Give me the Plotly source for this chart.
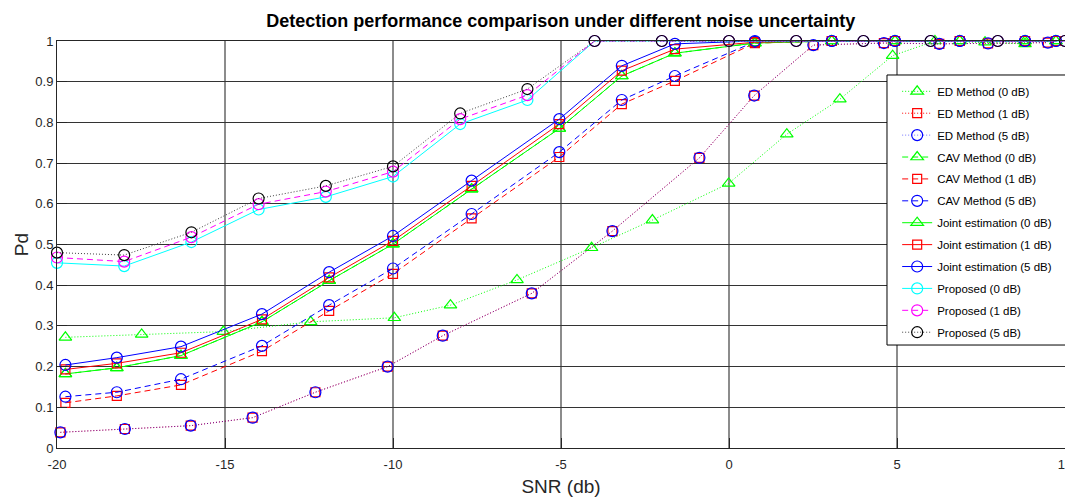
import plotly.graph_objects as go

# ---------------- data ----------------
snr_ed0 = [-19.75, -17.48, -15.05, -12.45, -9.96, -8.29, -6.31, -4.09, -2.28, -0.01, 1.72, 3.30, 4.87, 6.13, 7.62, 8.81]
pd_ed0 = [0.272, 0.279, 0.286, 0.310, 0.320, 0.351, 0.413, 0.492, 0.560, 0.650, 0.771, 0.857, 0.964, 1.0, 0.997, 0.993]

snr_ed = [-19.9, -17.98, -16.02, -14.18, -12.31, -10.16, -8.52, -5.87, -3.47, -0.88, 0.75, 2.51, 4.61, 6.26, 7.71, 9.49]
pd_ed1 = [0.0385, 0.0467, 0.0549, 0.0745, 0.137, 0.200, 0.276, 0.380, 0.533, 0.713, 0.866, 0.990, 0.995, 0.993, 0.994, 0.996]
pd_ed5 = [0.0385, 0.0467, 0.0549, 0.0745, 0.137, 0.200, 0.276, 0.380, 0.533, 0.713, 0.866, 0.990, 0.995, 0.993, 0.994, 0.996]

snr_joint = [-19.75, -18.22, -16.31, -13.9, -11.9, -10.0, -7.66, -5.05, -3.19, -1.61, 0.77, 3.06, 4.94, 6.87, 8.81, 9.73]
pd_cav0 = [0.182, 0.197, 0.227, 0.310, 0.411, 0.501, 0.636, 0.785, 0.914, 0.970, 0.995, 1, 1, 1, 1, 1]
pd_cav1 = [0.111, 0.128, 0.155, 0.238, 0.337, 0.428, 0.564, 0.715, 0.845, 0.902, 0.995, 1, 1, 1, 1, 1]
pd_cav5 = [0.126, 0.137, 0.169, 0.251, 0.351, 0.441, 0.575, 0.727, 0.855, 0.914, 0.998, 1, 1, 1, 1, 1]
pd_joint0 = [0.182, 0.197, 0.227, 0.310, 0.411, 0.501, 0.636, 0.785, 0.914, 0.970, 0.995, 1, 1, 1, 1, 1]
pd_joint1 = [0.193, 0.208, 0.234, 0.316, 0.419, 0.509, 0.644, 0.796, 0.927, 0.980, 0.997, 1, 1, 1, 1, 1]
pd_joint5 = [0.204, 0.222, 0.249, 0.329, 0.432, 0.521, 0.657, 0.808, 0.939, 0.993, 1, 1, 1, 1, 1, 1]

snr_prop = [-20, -18, -16, -14, -12, -10, -8, -6, -4, -2, 0, 2, 4, 6, 8, 10]
pd_prop0 = [0.455, 0.447, 0.506, 0.586, 0.617, 0.667, 0.796, 0.855, 1, 1, 1, 1, 1, 1, 1, 1]
pd_prop1 = [0.468, 0.458, 0.518, 0.599, 0.630, 0.679, 0.808, 0.867, 1, 1, 1, 1, 1, 1, 1, 1]
pd_prop5 = [0.480, 0.474, 0.530, 0.613, 0.644, 0.692, 0.822, 0.882, 1, 1, 1, 1, 1, 1, 1, 1]

x_ticks = [-20, -15, -10, -5, 0, 5, 10]
y_ticks = [0, 0.1, 0.2, 0.3, 0.4, 0.5, 0.6, 0.7, 0.8, 0.9, 1]

# ---------------- figure ----------------
DOT = "1px,2px"
DASH = "6px,4px"
FONT = "Liberation Sans, Arial, sans-serif"

series = [
    ("ED Method (0 dB)", snr_ed0, pd_ed0, "#00ff00", "#00ff00", DOT, "triangle-up-open", 11),
    ("ED Method (1 dB)", snr_ed, pd_ed1, "#ff0000", "#ff0000", DOT, "square-open", 9),
    ("ED Method (5 dB)", snr_ed, pd_ed5, "rgba(0,0,255,0.55)", "#0000ff", DOT, "circle-open", 11),
    ("CAV Method (0 dB)", snr_joint, pd_cav0, "#00ff00", "#00ff00", DASH, "triangle-up-open", 11),
    ("CAV Method (1 dB)", snr_joint, pd_cav1, "#ff0000", "#ff0000", DASH, "square-open", 9),
    ("CAV Method (5 dB)", snr_joint, pd_cav5, "#0000ff", "#0000ff", DASH, "circle-open", 11),
    ("Joint estimation (0 dB)", snr_joint, pd_joint0, "#00ff00", "#00ff00", "solid", "triangle-up-open", 11),
    ("Joint estimation (1 dB)", snr_joint, pd_joint1, "#ff0000", "#ff0000", "solid", "square-open", 9),
    ("Joint estimation (5 dB)", snr_joint, pd_joint5, "#0000ff", "#0000ff", "solid", "circle-open", 11),
    ("Proposed (0 dB)", snr_prop, pd_prop0, "#00ffff", "#00ffff", "solid", "circle-open", 11),
    ("Proposed (1 dB)", snr_prop, pd_prop1, "#ff00ff", "#ff00ff", DASH, "circle-open", 11),
    ("Proposed (5 dB)", snr_prop, pd_prop5, "#404040", "#000000", DOT, "circle-open", 11),
]

fig = go.Figure()
for i, (name, xs, ys, lc, mc, dash, sym, sz) in enumerate(series):
    fig.add_trace(go.Scatter(
        x=xs, y=ys, name=name, mode="lines+markers",
        line=dict(color=lc, width=1, dash=dash),
        marker=dict(symbol=sym, size=sz, color=mc, line=dict(color=mc, width=1.2)),
        legendgroup="g%d" % i,
        cliponaxis=False,
    ))

axis_font = dict(family=FONT, size=13, color="#262626")

# legend frame (extends past the right edge like the reference)
fig.add_shape(
    type="rect", xref="paper", yref="paper",
    x0=0.8234, x1=1.03, y0=0.253, y1=0.9165,
    line=dict(color="#000000", width=1), fillcolor="white", layer="above",
)

fig.update_layout(
    width=1065, height=497,
    margin=dict(l=57, r=0, t=41, b=49, autoexpand=False),
    paper_bgcolor="white", plot_bgcolor="white",
    title=dict(
        text="<b>Detection performance comparison under different noise uncertainty</b>",
        x=0.5266, xanchor="center", y=0.958, yanchor="middle",
        font=dict(family=FONT, size=18, color="#000000"),
    ),
    showlegend=True,
    legend=dict(
        x=0.8335, y=0.912, xanchor="left", yanchor="top",
        bgcolor="rgba(0,0,0,0)", borderwidth=0,
        font=dict(family=FONT, size=11.5, color="#000000"),
        tracegroupgap=2.9,
        itemwidth=30,
    ),
    xaxis=dict(
        range=[-20, 10], tickvals=x_ticks, ticktext=[str(v) for v in x_ticks],
        showgrid=True, gridcolor="#8c8c8c", gridwidth=1.5,
        zeroline=False, showline=True, linecolor="#262626", linewidth=1, mirror=True,
        ticks="inside", ticklen=10, tickcolor="#262626",
        tickfont=axis_font, ticklabeloverflow="allow", ticklabelstandoff=4,
        automargin=False,
        title=dict(text="SNR (db)", font=dict(family=FONT, size=19, color="#262626"), standoff=12),
    ),
    yaxis=dict(
        range=[0, 1], tickvals=y_ticks, ticktext=["0", "0.1", "0.2", "0.3", "0.4", "0.5", "0.6", "0.7", "0.8", "0.9", "1"],
        showgrid=True, gridcolor="#333333", gridwidth=1,
        zeroline=False, showline=True, linecolor="#262626", linewidth=1, mirror=True,
        ticks="inside", ticklen=10, tickcolor="#262626",
        tickfont=axis_font, automargin=False,
        title=dict(text="Pd", font=dict(family=FONT, size=19, color="#262626"), standoff=1),
    ),
)

fig.write_html("out.html")
